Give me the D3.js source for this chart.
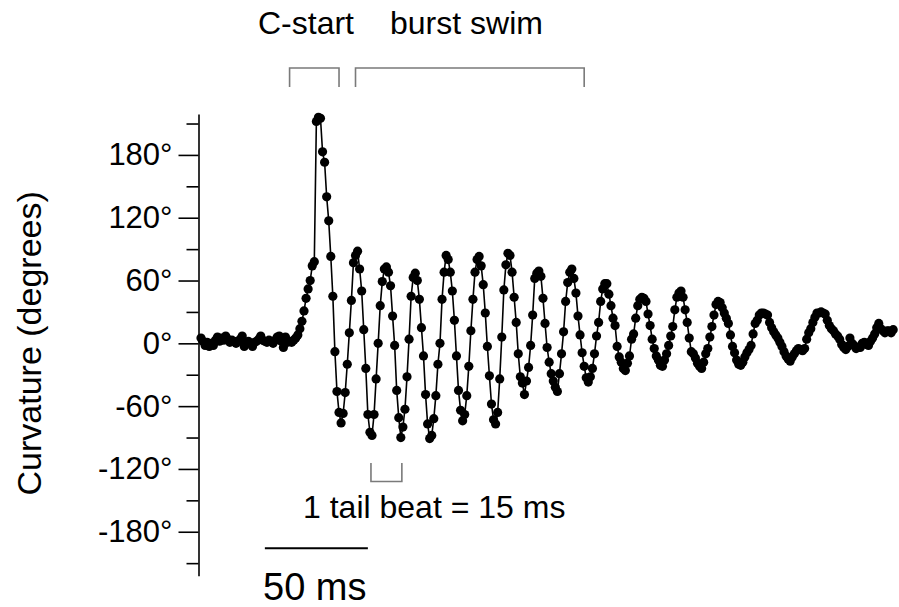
<!DOCTYPE html>
<html>
<head>
<meta charset="utf-8">
<script src="https://cdn.jsdelivr.net/npm/d3@7"></script>
<style>
  html, body { margin: 0; padding: 0; background: #fff; }
  svg { display: block; font-family: "Liberation Sans", Arial, sans-serif; }
</style>
</head>
<body>
<svg id="chart" width="899" height="607"></svg>
<script>
// Tail curvature (degrees), one sample per millisecond
const sampleIntervalMs = 1;
const curvature = [
  5, 2, -2, 1, -3, 0, -2, 3, 6, 2,
  5, 3, 7, 4, 1, 3, 2, 0, 2, 4,
  7, -3, 1, 2, 0, -3, 1, 2, 4, 7,
  3, 2, 1, 3, 2, 0, 3, 6, 7, 2,
  -4, 6, 1, 2, 1, 3, 5,
  8, 14, 21, 31, 43, 52, 60, 74, 78,
  212, 216, 215,
  183, 173, 140, 117, 83, 45, -8, -46, -66, -76, -67, -47,
  -20, 10, 41, 77, 84, 88, 71, 50, 13, -24, -68, -85,
  -88, -68, -34, 0, 36, 59, 71, 73, 68, 55, 26, -2, -45, -71, -90,
  -80, -63, -32, 4, 45, 63, 67, 60, 42, 15, -12, -49, -77, -91, -88,
  -72, -50, -20, 0, 42, 68, 84, 80, 68, 50, 22, -12, -45, -64, -74,
  -68, -50, -22, 12, 42, 68, 80, 83, 74, 56, 29, -3, -31, -58, -73,
  -77, -66, -34, 6, 51, 75, 86, 84, 68, 44, 20, -10, -32, -38, -49,
  -36, -23, -2, 27, 62, 67, 69, 64, 43, 19, -4, -18, -29, -36, -42,
  -46, -29, -10, 11, 40, 58, 68, 71, 62, 48,
  26, 8, -9, -22, -33, -37, -32, -24, -10, 7, 20, 40, 52, 57, 57,
  47, 36, 24, 17, -3, -13, -18, -24, -26, -19, -12, 4, 9, 24, 36,
  42, 44, 43, 40, 28, 17, 4, -5, -12, -16, -21, -22, -16, -10, -2,
  7, 16, 32, 44, 48, 50, 44, 32, 20, 5, -8, -10, -14, -19, -22,
  -24, -18, -10, -5, 6, 16, 27, 37, 40, 39, 34, 29, 24, 19, 8,
  -3, -9, -16, -20, -21, -18, -13, -9, -6, -2, 9, 19, 22, 27, 29,
  29, 28, 27, 20, 15, 11, 8, 5, 1, -3, -8, -12, -15, -17, -13,
  -10, -7, -5, -6, -7, -5, 4, 10, 14, 20, 25, 29, 29, 30, 29,
  28, 22, 17, 14, 12, 9, 7, 4, -1, -4, -6, -3, 5, 0, -2,
  -5, -4, -4, 0, 1, -1, -2, 2, 5, 9, 15, 19, 14, 12, 10,
  12, 12, 10, 13
];

// Axis ticks
const yTickValues = [-180, -120, -60, 0, 60, 120, 180];
const yTickLabels = ["-180°", "-120°", "-60°", "0°", "60°", "120°", "180°"];
const yMinorTickValues = [-210, -150, -90, -30, 30, 90, 150, 210];
const yAxisExtent = [-222, 219];
const yAxisTitle = "Curvature (degrees)";

// Annotation windows (ms)
const cStartWindow = [43, 67];
const burstSwimWindow = [75, 186];
const tailBeatWindow = [82.5, 97.5];
const scaleBarWindow = [31, 81];
const cStartLabel = "C-start";
const burstSwimLabel = "burst swim";
const tailBeatLabel = "1 tail beat = 15 ms";
const scaleBarLabel = "50 ms";

const series = curvature.map((v, i) => ({ t: i * sampleIntervalMs, v }));

const svg = d3.select("#chart");

const x = d3.scaleLinear()
  .domain([0, (curvature.length - 1) * sampleIntervalMs])
  .range([201, 893.2]);

const y = d3.scaleLinear()
  .domain(yAxisExtent)
  .range([575.7, 114.1]);

const axisX = 198.5;
const labelFor = d => yTickLabels[yTickValues.indexOf(d)];

// Minor ticks
const minorAxis = svg.append("g")
  .attr("transform", `translate(${axisX},0)`)
  .call(d3.axisLeft(y).tickValues(yMinorTickValues).tickSize(12).tickSizeOuter(0).tickFormat(""));
minorAxis.select(".domain").remove();
minorAxis.selectAll("line").attr("stroke", "#000").attr("stroke-width", 1.6);

// Major ticks with labels
const majorAxis = svg.append("g")
  .attr("transform", `translate(${axisX},0)`)
  .call(d3.axisLeft(y).tickValues(yTickValues).tickSize(20).tickSizeOuter(0).tickPadding(6).tickFormat(labelFor));
majorAxis.select(".domain").attr("stroke", "#000").attr("stroke-width", 1.6);
majorAxis.selectAll("line").attr("stroke", "#000").attr("stroke-width", 1.6);
majorAxis.selectAll("text")
  .attr("fill", "#000")
  .style("font-family", "'Liberation Sans', Arial, sans-serif")
  .style("font-size", "31px");

// Axis title
svg.append("text")
  .attr("transform", `translate(41,${y(0)}) rotate(-90)`)
  .attr("text-anchor", "middle")
  .style("font-size", "34px")
  .attr("fill", "#000")
  .text(yAxisTitle);

// Trace
const line = d3.line().x(d => x(d.t)).y(d => y(d.v));
svg.append("path")
  .datum(series)
  .attr("fill", "none")
  .attr("stroke", "#000")
  .attr("stroke-width", 1.6)
  .attr("d", line);

svg.append("g")
  .selectAll("circle")
  .data(series)
  .join("circle")
  .attr("cx", d => x(d.t))
  .attr("cy", d => y(d.v))
  .attr("r", 4.6)
  .attr("fill", "#000");

// Phase brackets above the trace
const bracketColor = "#7a7a7a";
function topBracket(win, top, bottom) {
  const x0 = x(win[0]), x1 = x(win[1]);
  svg.append("path")
    .attr("d", `M${x0},${bottom}V${top}H${x1}V${bottom}`)
    .attr("fill", "none")
    .attr("stroke", bracketColor)
    .attr("stroke-width", 1.6);
}
topBracket(cStartWindow, 68, 87);
topBracket(burstSwimWindow, 68, 87);

svg.append("text")
  .attr("x", 258).attr("y", 34)
  .style("font-size", "32px").attr("fill", "#000")
  .text(cStartLabel);
svg.append("text")
  .attr("x", 390).attr("y", 34)
  .style("font-size", "32px").attr("fill", "#000")
  .text(burstSwimLabel);

// Tail-beat bracket
{
  const x0 = x(tailBeatWindow[0]), x1 = x(tailBeatWindow[1]);
  svg.append("path")
    .attr("d", `M${x0},463V481.5H${x1}V463`)
    .attr("fill", "none")
    .attr("stroke", bracketColor)
    .attr("stroke-width", 1.6);
}
svg.append("text")
  .attr("x", 303).attr("y", 518)
  .style("font-size", "32px").attr("fill", "#000")
  .text(tailBeatLabel);

// Time scale bar
svg.append("line")
  .attr("x1", x(scaleBarWindow[0])).attr("x2", x(scaleBarWindow[1]))
  .attr("y1", 548.3).attr("y2", 548.3)
  .attr("stroke", "#000").attr("stroke-width", 2);
svg.append("text")
  .attr("x", 263).attr("y", 600)
  .style("font-size", "38px").attr("fill", "#000")
  .text(scaleBarLabel);
</script>
</body>
</html>
